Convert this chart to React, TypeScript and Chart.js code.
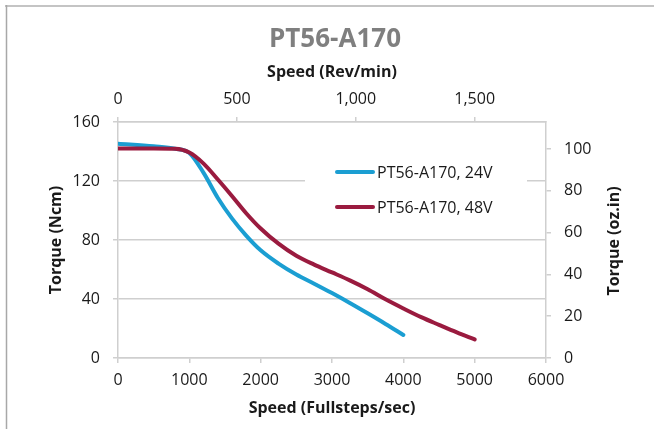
import React, { useEffect, useRef } from "react";
import { Chart, registerables } from "chart.js";

Chart.register(...registerables);

// ---- data ----
const chartTitle = "PT56-A170";
const seriesNames = ["PT56-A170, 24V", "PT56-A170, 48V"];
const seriesColors = ["#1b9ed2", "#9a1b3f"];

const speed24 = [0, 500, 800, 1000, 1200, 1400, 1600, 1800, 2000, 2250, 2500, 2750, 3000, 3250, 3500, 3750, 4000];
const torque24 = [145.3, 143.5, 141.9, 139, 125.5, 108.5, 94.5, 82.8, 73, 64, 56.6, 50.4, 44, 37.3, 30.3, 23.1, 15.6];

const speed48 = [0, 500, 800, 1000, 1200, 1400, 1600, 1800, 2000, 2250, 2500, 2750, 3000, 3250, 3500, 3750, 4000, 4250, 4500, 4750, 5000];
const torque48 = [142, 142, 141.8, 139.3, 131.8, 121, 109.7, 98, 87.8, 77.5, 69.3, 63.3, 58, 52.6, 46.6, 39.8, 33.6, 27.7, 22.5, 17.4, 12.6];

const bottomTicks = [0, 1000, 2000, 3000, 4000, 5000, 6000];
const leftTicks = [0, 40, 80, 120, 160];
const topTicks = [0, 500, 1000, 1500];
const rightTicks = [0, 20, 40, 60, 80, 100];

const bottomTitle = "Speed (Fullsteps/sec)";
const topTitle = "Speed (Rev/min)";
const leftTitle = "Torque (Ncm)";
const rightTitle = "Torque (oz.in)";

const FONT = "'Open Sans', sans-serif";
const TEXT = "#1a1a1a";
const GRID = "#cfcfcf";

export default function App() {
  const ref = useRef<HTMLCanvasElement | null>(null);

  useEffect(() => {
    document.body.style.margin = "0";
    document.documentElement.style.overflow = "hidden";
    const canvas = ref.current;
    if (!canvas) return;

    const decor = {
      id: "decor",
      beforeDraw(chart: any) {
        const ctx = chart.ctx;
        ctx.save();
        ctx.strokeStyle = "#c4c4c4";
        ctx.lineWidth = 2;
        ctx.beginPath();
        ctx.moveTo(5, 6);
        ctx.lineTo(654, 6);
        ctx.stroke();
        ctx.strokeStyle = "#a8a8a8";
        ctx.lineWidth = 1.5;
        ctx.beginPath();
        ctx.moveTo(6.5, 5);
        ctx.lineTo(6.5, 429);
        ctx.stroke();
        ctx.restore();
      },
      beforeDatasetsDraw(chart: any) {
        const ctx = chart.ctx;
        ctx.save();
        ctx.fillStyle = "#ffffff";
        ctx.fillRect(305, 125, 222, 112);
        const rows = [172, 207];
        seriesNames.forEach((name, i) => {
          ctx.strokeStyle = seriesColors[i];
          ctx.lineWidth = 4;
          ctx.lineCap = "round";
          ctx.beginPath();
          ctx.moveTo(337, rows[i]);
          ctx.lineTo(373, rows[i]);
          ctx.stroke();
          ctx.fillStyle = TEXT;
          ctx.font = `16px ${FONT}`;
          ctx.textAlign = "left";
          ctx.textBaseline = "middle";
          ctx.fillText(name, 377, rows[i] + 1);
        });
        ctx.restore();
      },
      afterDraw(chart: any) {
        const ctx = chart.ctx;
        ctx.save();
        // main title
        ctx.fillStyle = "#7f7f7f";
        ctx.font = `bold 26px ${FONT}`;
        ctx.textAlign = "center";
        ctx.textBaseline = "middle";
        ctx.fillText(chartTitle, 335, 40);
        // right axis tick labels
        const y2 = chart.scales.y2;
        ctx.fillStyle = TEXT;
        ctx.font = `16px ${FONT}`;
        ctx.textAlign = "left";
        rightTicks.forEach((v) => {
          ctx.fillText(String(v), y2.left + 18, y2.getPixelForValue(v));
        });
        // right axis title
        ctx.textAlign = "center";
        ctx.font = `bold 16px ${FONT}`;
        ctx.translate(614, 241);
        ctx.rotate(-Math.PI / 2);
        ctx.fillText(rightTitle, 0, 0);
        ctx.restore();
      },
    };

    const chart = new Chart(canvas, {
      type: "line",
      data: {
        datasets: [
          {
            label: seriesNames[0],
            data: speed24.map((x, i) => ({ x, y: torque24[i] })),
            borderColor: seriesColors[0],
            backgroundColor: seriesColors[0],
            borderWidth: 4,
            pointRadius: 0,
            cubicInterpolationMode: "monotone",
            borderCapStyle: "round",
            xAxisID: "x",
            yAxisID: "y",
            order: 1,
          },
          {
            label: seriesNames[1],
            data: speed48.map((x, i) => ({ x, y: torque48[i] })),
            borderColor: seriesColors[1],
            backgroundColor: seriesColors[1],
            borderWidth: 4,
            pointRadius: 0,
            cubicInterpolationMode: "monotone",
            borderCapStyle: "round",
            xAxisID: "x",
            yAxisID: "y",
            order: 0,
          },
        ],
      },
      options: {
        responsive: false,
        animation: false,
        devicePixelRatio: 1,
        layout: { padding: 0 },
        plugins: {
          legend: { display: false },
          title: { display: false },
          tooltip: { enabled: false },
        },
        font: { family: FONT },
        scales: {
          x: {
            type: "linear",
            position: "bottom",
            min: 0,
            max: 6000,
            afterBuildTicks: (s: any) => {
              s.ticks = bottomTicks.map((v) => ({ value: v }));
            },
            afterFit: (s: any) => {
              s.height = 71;
            },
            ticks: {
              padding: 8,
              color: TEXT,
              font: { size: 16, family: FONT },
              maxRotation: 0,
              autoSkip: false,
              callback: (v: any) => String(v),
            },
            grid: { drawOnChartArea: false, tickLength: 5, color: GRID, lineWidth: 1.5 },
            border: { color: GRID, width: 1.5 },
            title: {
              display: true,
              text: bottomTitle,
              color: TEXT,
              font: { size: 16, weight: "bold", family: FONT },
              padding: { top: 0, bottom: 11 },
            },
          },
          x2: {
            type: "linear",
            position: "top",
            min: 0,
            max: 1800,
            afterBuildTicks: (s: any) => {
              s.ticks = topTicks.map((v) => ({ value: v }));
            },
            afterFit: (s: any) => {
              s.height = 122;
            },
            ticks: {
              padding: 8,
              color: TEXT,
              font: { size: 16, family: FONT },
              maxRotation: 0,
              autoSkip: false,
              callback: (v: any) => Number(v).toLocaleString("en-US"),
            },
            grid: { drawOnChartArea: false, tickLength: 5, color: GRID, lineWidth: 1.5 },
            border: { color: GRID, width: 1.5 },
            title: {
              display: true,
              text: topTitle,
              color: TEXT,
              font: { size: 16, weight: "bold", family: FONT },
              padding: { top: 63, bottom: 0 },
            },
          },
          y: {
            type: "linear",
            position: "left",
            min: 0,
            max: 160,
            afterBuildTicks: (s: any) => {
              s.ticks = leftTicks.map((v) => ({ value: v }));
            },
            afterFit: (s: any) => {
              s.width = 118;
            },
            ticks: {
              padding: 13,
              color: TEXT,
              font: { size: 16, family: FONT },
              autoSkip: false,
            },
            grid: { drawOnChartArea: true, tickLength: 5, color: GRID, lineWidth: 1.5 },
            border: { color: GRID, width: 1.5 },
            title: {
              display: true,
              text: leftTitle,
              color: TEXT,
              font: { size: 16, weight: "bold", family: FONT },
              padding: { top: 47, bottom: 0 },
            },
          },
          y2: {
            type: "linear",
            position: "right",
            min: 0,
            max: 113,
            afterBuildTicks: (s: any) => {
              s.ticks = rightTicks.map((v) => ({ value: v }));
            },
            afterFit: (s: any) => {
              s.width = 108;
            },
            ticks: {
              display: false,
            },
            grid: { drawOnChartArea: false, drawTicks: true, tickLength: 5, color: GRID, lineWidth: 1.5 },
            border: { color: GRID, width: 1.5 },
            title: { display: false },
          },
        },
      } as any,
      plugins: [decor],
    });

    return () => {
      chart.destroy();
    };
  }, []);

  return (
    <div style={{ position: "relative", width: 654, height: 429 }}>
      <canvas ref={ref} width={654} height={429} style={{ width: 654, height: 429, display: "block" }} />
    </div>
  );
}
